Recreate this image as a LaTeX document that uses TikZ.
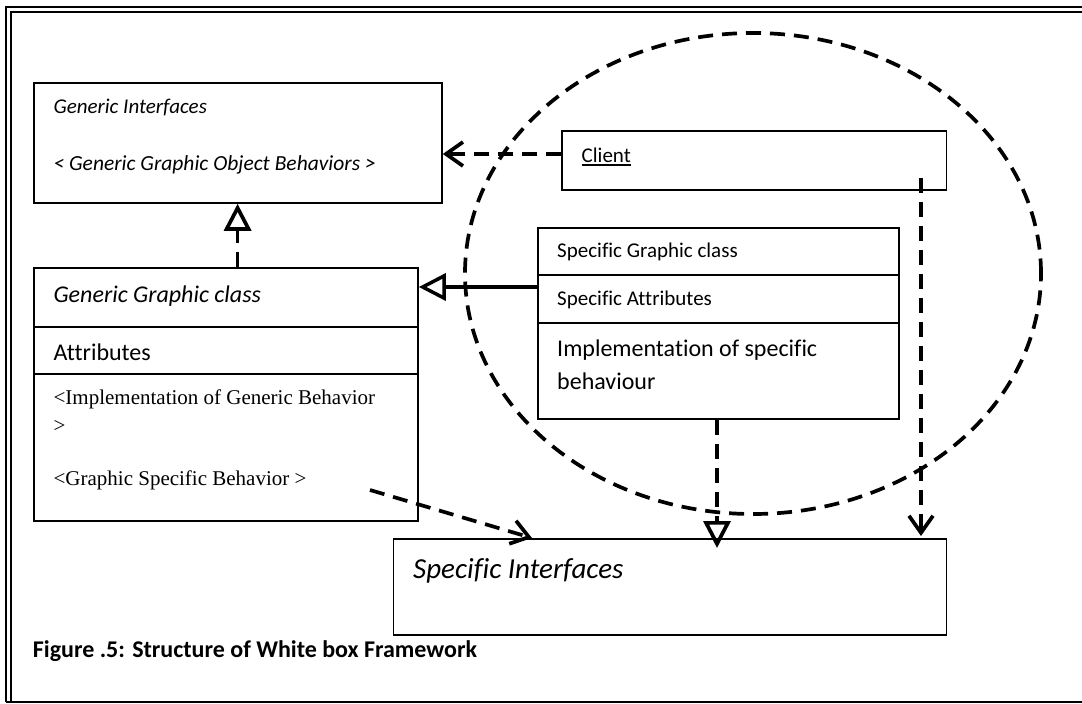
\documentclass[tikz,border=0pt]{standalone}
\usepackage{fontspec}
\setmainfont{Carlito}[Ligatures=NoCommon]
\newfontfamily\serifface{Liberation Serif}
\usetikzlibrary{arrows.meta,shapes.geometric}

% text sizes used in the class boxes
\newcommand\txtsmall{\fontsize{21}{25}\selectfont}
\newcommand\txtmid{\fontsize{24}{28}\selectfont}
\newcommand\txtlarge{\fontsize{29}{34}\selectfont}

\tikzset{
  box/.style={draw, line width=1.8pt, inner sep=0pt, anchor=north west},
  lbl/.style={inner sep=0pt, anchor=base west},
  dep/.style={line width=3.7pt, dash pattern=on 15pt off 9pt},
  opentip/.style={-{Straight Barb[length=17pt,width=24pt]}},
  realize/.style={-{Triangle[open,length=27pt,width=27pt]}},
}

\begin{document}
\begin{tikzpicture}[x=1pt,y=-1pt]
\useasboundingbox (0,0) rectangle (1082,704);

% page frame
\draw[line width=2pt] (6,702) -- (6,7) -- (1082,7);
\draw[line width=1.4pt] (11,702) -- (11,12) -- (1082,12);
\draw[line width=1.8pt] (6,702) -- (1082,702);

% component group
\node[draw, ellipse, dep, inner sep=0pt, minimum width=576, minimum height=481] (grp) at (753,273.5) {};

% generic interfaces
\node[box, minimum width=408, minimum height=120] (gi) at (33,82) {};
\node[lbl, font=\txtsmall\itshape] (giname) at (53.4,113) {Generic Interfaces};
\node[lbl, font=\fontsize{21.5}{25}\selectfont\itshape] (giops) at (53.4,170) {< Generic Graphic Object Behaviors >};

% generic graphic class
\node[box, minimum width=384, minimum height=59] (gc1) at (33,267) {};
\node[box, minimum width=384, minimum height=47] (gc2) at (33,326) {};
\node[box, minimum width=384, minimum height=147] (gc3) at (33,373) {};
\node[lbl, font=\txtmid\itshape] (gcname) at (53.4,302) {Generic Graphic class};
\node[lbl, font=\txtmid] (gcattr) at (53.4,360.5) {Attributes};
\node[lbl, font=\txtsmall\serifface] (gcimpl) at (53.4,404) {<Implementation of Generic Behavior};
\node[lbl, font=\txtsmall\serifface] (gcimplb) at (53.4,432) {>};
\node[lbl, font=\txtsmall\serifface] (gcspec) at (53.4,485) {<Graphic Specific Behavior >};

% client
\node[box, minimum width=384.5, minimum height=59] (cl) at (561,130) {};
\node[lbl, font=\txtsmall] (clname) at (581.5,162.5) {Client};
\draw[line width=1.6pt] ([yshift=-2.2pt]clname.base west) -- ([yshift=-2.2pt]clname.base east);

% specific graphic class
\node[box, minimum width=361, minimum height=47] (sc1) at (537,227) {};
\node[box, minimum width=361, minimum height=48] (sc2) at (537,274) {};
\node[box, minimum width=361, minimum height=96] (sc3) at (537,322) {};
\node[lbl, font=\txtsmall] (scname) at (557,257) {Specific Graphic class};
\node[lbl, font=\txtsmall] (scattr) at (557,305) {Specific Attributes};
\node[lbl, font=\txtmid] (scimpl) at (557,356.7) {Implementation of specific};
\node[lbl, font=\txtmid] (scimplb) at (557,389) {behaviour};

% specific interfaces
\node[box, minimum width=553, minimum height=96] (si) at (392.6,538) {};
\node[lbl, font=\txtlarge\itshape] (siname) at (413,578) {Specific Interfaces};

% caption
\node[lbl, font=\fontsize{24}{28}\selectfont\bfseries] (cap) at (32.7,657) {Figure .5: Structure of White box Framework};

% connector levels
\coordinate (genx) at (237.6,0);
\coordinate (clientlvl) at (0,154);
\coordinate (inhlvl) at (0,287);
\coordinate (specx) at (717,0);
\coordinate (clientdown) at (921,178);
\coordinate (behstart) at (370,490);
\coordinate (behend) at (532,0);

% connectors
\draw[dep, opentip] (cl.west |- clientlvl) -- (gi.east |- clientlvl);
\draw[dep, realize] (gc1.north -| genx) -- (gi.south -| genx);
\draw[line width=3.5pt, realize] (sc1.west |- inhlvl) -- (gc1.east |- inhlvl);
\draw[dep, realize] (sc3.south -| specx) -- ([yshift=-10pt]si.north -| specx);
\draw[dep, opentip] (clientdown) -- ([yshift=2pt]si.north -| clientdown);
\draw[dep, opentip] (behstart) -- (si.north -| behend);
\end{tikzpicture}
\end{document}
